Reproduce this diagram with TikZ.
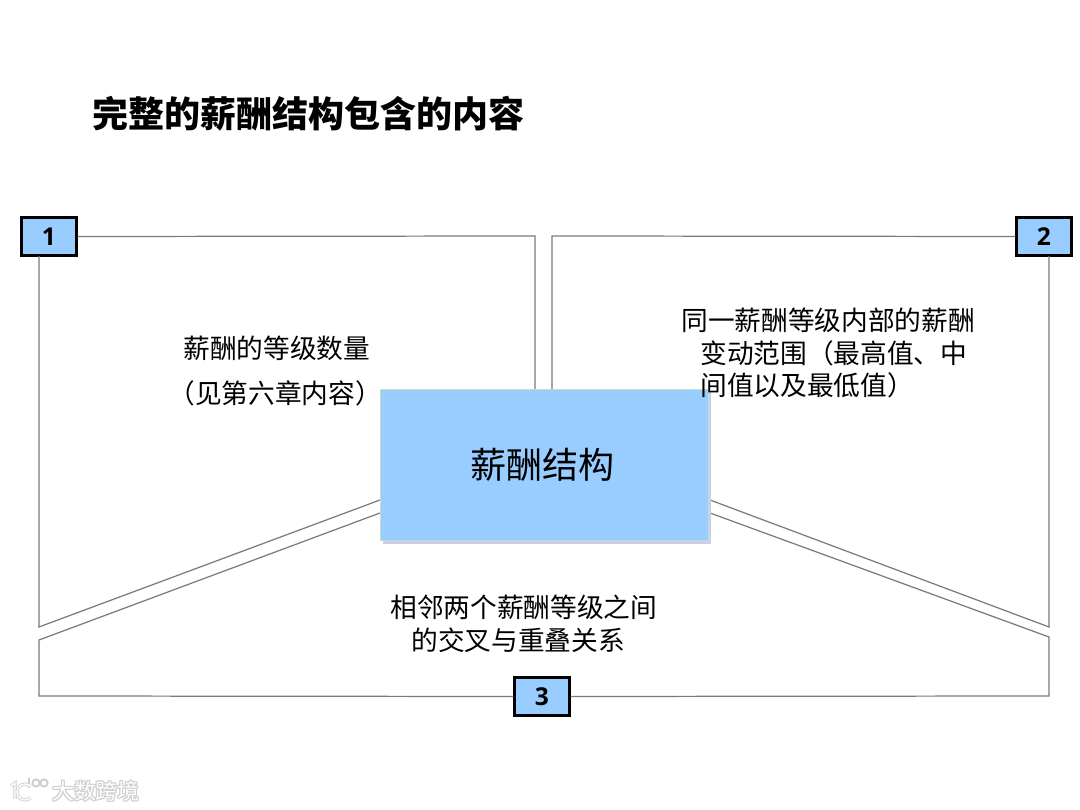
\documentclass[tikz,border=0pt]{standalone}
\usepackage{fontspec}
\setmainfont{Noto Sans CJK SC}
\newfontfamily\digitfont{Open Sans}
\usetikzlibrary{calc}
\definecolor{boxblue}{HTML}{99CCFF}
\definecolor{boxshadow}{HTML}{CCCCEE}
\definecolor{boxedge}{HTML}{C4E0C0}
\definecolor{panelline}{HTML}{7A7A7A}
\definecolor{markgray}{HTML}{CFCFCF}
\tikzset{
  numbox/.style={draw=black,line width=1.4pt,fill=boxblue,minimum width=1.1cm,minimum height=0.76cm,inner sep=0pt,font=\digitfont\bfseries\fontsize{14}{14}\selectfont},
  panel/.style={draw=panelline,line width=0.7pt},
  bodytext/.style={inner sep=0pt,anchor=west,font=\fontsize{15.2}{15.2}\selectfont,text=black},
  marktext/.style={inner sep=0pt,anchor=west,font=\fontsize{12.4}{12.4}\selectfont,text=white},
}
\begin{document}
\begin{tikzpicture}[x=0.02cm,y=-0.02cm]
\useasboundingbox (0,0) rectangle (1080,810);
% panel end points
\coordinate (pa1) at (39,256);
\coordinate (pa2) at (39,627);
\coordinate (pa3) at (380,500);
\coordinate (pb1) at (535,236);
\coordinate (pb2) at (535,389);
\coordinate (pc1) at (552,236);
\coordinate (pc2) at (552,389);
\coordinate (pd1) at (1049,256);
\coordinate (pd2) at (1049,627);
\coordinate (pd3) at (710,500);
\coordinate (pe1) at (380,513);
\coordinate (pe2) at (39,640);
\coordinate (pe3) at (39,696);
\coordinate (pf1) at (710,513);
\coordinate (pf2) at (1049,637);
\coordinate (pf3) at (1049,696);
% number boxes
\node[numbox] (n1) at (49,236.5) {1};
\node[numbox] (n2) at (1044,236.5) {2};
\node[numbox] (n3) at (542,696.5) {3};
% panels
\draw[panel] (n1.east) -- (pb1) -- (pb2);
\draw[panel] (n2.west) -- (pc1) -- (pc2);
\draw[panel] (pa1) -- (pa2) -- (pa3);
\draw[panel] (pd1) -- (pd2) -- (pd3);
\draw[panel] (pe1) -- (pe2) -- (pe3) -- (n3.west);
\draw[panel] (pf1) -- (pf2) -- (pf3) -- (n3.east);
% centre box
\fill[boxshadow] (383,392) rectangle (711,544);
\node[draw=boxedge,line width=0.5pt,fill=boxblue,minimum width=6.56cm,minimum height=3.02cm,inner sep=0pt,font=\fontsize{20.5}{20.5}\selectfont,text=black] (core) at (544,465) {\hspace*{-2.2pt}薪酬结构};
% title
\node[inner sep=0pt,anchor=west,font=\bfseries\fontsize{20.5}{20.5}\selectfont,text=black] (title) at (92,114) {完整的薪酬结构包含的内容};
% body texts
\node[bodytext] (t1a) at (183,348) {薪酬的等级数量};
\node[bodytext] (t1b) at (168,393) {（见第六章内容）};
\node[bodytext] (t2a) at (681,320) {同一薪酬等级内部的薪酬};
\node[bodytext] (t2b) at (700,353) {变动范围（最高值、中};
\node[bodytext] (t2c) at (700,385) {间值以及最低值）};
\node[bodytext] (t3a) at (390,607) {相邻两个薪酬等级之间};
\node[bodytext] (t3b) at (411,640) {的交叉与重叠关系};
% watermark
\foreach \dx/\dy in {-1/0,1/0,0/-1,0/1,-1/-1,1/1,-1/1,1/-1}{
  \node[marktext,text=markgray] at (52+\dx,791+\dy) {大数跨境};
}
\node[marktext] (wm) at (52,791) {大数跨境};
\draw[markgray,line width=1.8pt] (11,786) -- (15,783) -- (15,799);
\draw[markgray,line width=1.8pt] (30.7,797.7) arc (45:315:8);
\draw[markgray,line width=1.1pt] (29,778) -- (29,788) (36,783) circle (3.6) (44,783) circle (3.6);
\draw[white,line width=0.8pt] (11,786) -- (15,783) -- (15,799);
\draw[white,line width=0.8pt] (30.7,797.7) arc (45:315:8);
\end{tikzpicture}
\end{document}
